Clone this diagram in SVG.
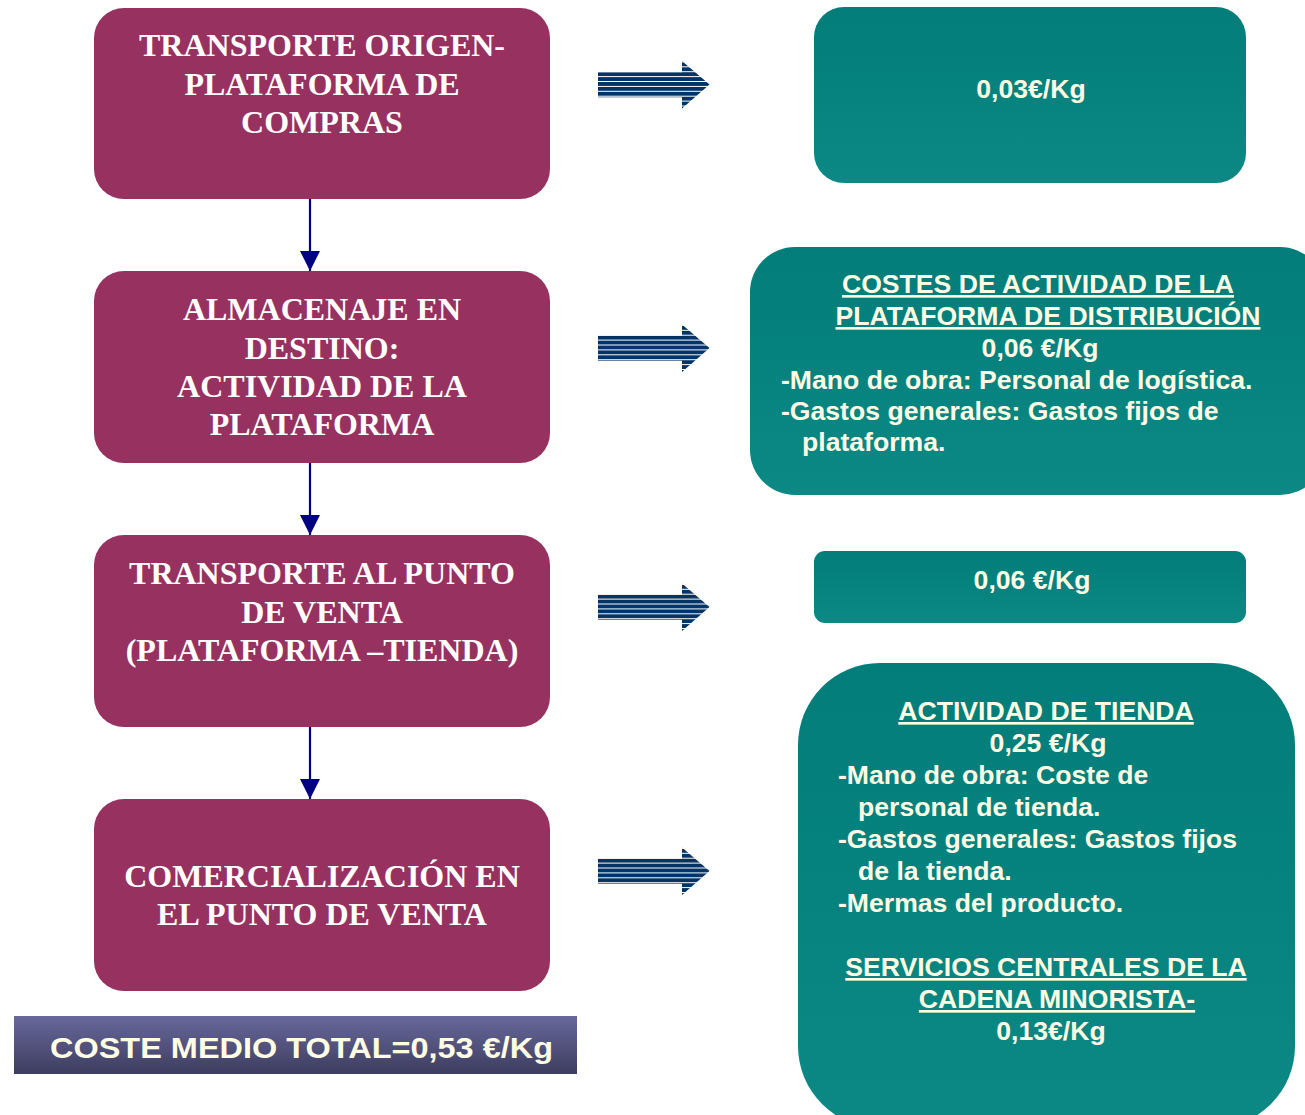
<svg xmlns="http://www.w3.org/2000/svg" width="1305" height="1115" viewBox="0 0 1305 1115">
<defs>
<style>
.lb{fill:#973260;}
.lt{font-family:"Liberation Serif","Times New Roman",serif;font-weight:bold;font-size:32px;fill:#FFFFFF;text-anchor:middle;}
.tb{fill:url(#teal);}
.tt{font-family:"Liberation Sans",Arial,sans-serif;font-weight:bold;font-size:26.6px;fill:#FFFDE3;}
.c{text-anchor:middle;}
.u{text-decoration:underline;}
.vl{stroke:#000080;stroke-width:2.2;fill:none;marker-end:url(#ah);}
</style>
<linearGradient id="teal" x1="0" y1="0" x2="0" y2="1">
<stop offset="0" stop-color="#027D79"/>
<stop offset="1" stop-color="#0C8985"/>
</linearGradient>
<linearGradient id="slate" x1="0" y1="0" x2="0" y2="1">
<stop offset="0" stop-color="#68689B"/>
<stop offset="1" stop-color="#3D3D60"/>
</linearGradient>
<pattern id="stripes" patternUnits="userSpaceOnUse" x="0" y="-12.3" width="20" height="4.9">
<rect x="0" y="0" width="20" height="3.9" fill="#003366"/>
</pattern>
<marker id="ah" markerWidth="20" markerHeight="21" refX="20" refY="10" orient="auto" markerUnits="userSpaceOnUse">
<path d="M0,0 L20,10 L0,20 Z" fill="#000080"/>
</marker>
<polygon id="sarrow" points="598,-12.3 682,-12.3 682,-23.5 709.5,0 682,24 682,12.7 598,12.7" fill="url(#stripes)"/>
</defs>

<g id="connectors">
<line class="vl" x1="310" y1="199" x2="310" y2="271"/>
<line class="vl" x1="310" y1="463" x2="310" y2="535"/>
<line class="vl" x1="310" y1="727" x2="310" y2="799"/>
<use href="#sarrow" transform="translate(0,84.5)"/>
<use href="#sarrow" transform="translate(0,348)"/>
<use href="#sarrow" transform="translate(0,607)"/>
<use href="#sarrow" transform="translate(0,871)"/>
</g>

<g id="node-transporte-origen">
<rect class="lb" x="94" y="8" width="456" height="191" rx="30"/>
<text class="lt" x="322" y="56">TRANSPORTE ORIGEN-</text>
<text class="lt" x="322" y="95">PLATAFORMA DE</text>
<text class="lt" x="322" y="133">COMPRAS</text>
</g>

<g id="node-almacenaje">
<rect class="lb" x="94" y="271" width="456" height="192" rx="30"/>
<text class="lt" x="322" y="320">ALMACENAJE EN</text>
<text class="lt" x="322" y="359">DESTINO:</text>
<text class="lt" x="322" y="397">ACTIVIDAD DE LA</text>
<text class="lt" x="322" y="435">PLATAFORMA</text>
</g>

<g id="node-transporte-punto">
<rect class="lb" x="94" y="535" width="456" height="192" rx="30"/>
<text class="lt" x="322" y="584">TRANSPORTE AL PUNTO</text>
<text class="lt" x="322" y="623">DE VENTA</text>
<text class="lt" x="322" y="661">(PLATAFORMA –TIENDA)</text>
</g>

<g id="node-comercializacion">
<rect class="lb" x="94" y="799" width="456" height="192" rx="30"/>
<text class="lt" x="322" y="887">COMERCIALIZACIÓN EN</text>
<text class="lt" x="322" y="925">EL PUNTO DE VENTA</text>
</g>

<g id="node-coste-total">
<rect x="14" y="1016" width="563" height="58" fill="url(#slate)"/>
<text x="50" y="1058" font-family="'Liberation Sans',Arial,sans-serif" font-weight="bold" font-size="30" fill="#FFFDE3" textLength="503" lengthAdjust="spacingAndGlyphs">COSTE MEDIO TOTAL=0,53 €/Kg</text>
</g>

<g id="node-coste-1">
<rect class="tb" x="814" y="7" width="432" height="176" rx="30"/>
<text class="tt c" x="1031" y="98">0,03€/Kg</text>
</g>

<g id="node-coste-2">
<rect class="tb" x="750" y="247" width="575" height="248" rx="45"/>
<text class="tt c u" x="1038" y="293">COSTES DE ACTIVIDAD DE LA</text>
<text class="tt c u" x="1048" y="325">PLATAFORMA DE DISTRIBUCIÓN</text>
<text class="tt c" x="1040" y="357">0,06 €/Kg</text>
<text class="tt" x="781" y="389">-Mano de obra: Personal de logística.</text>
<text class="tt" x="781" y="420">-Gastos generales: Gastos fijos de</text>
<text class="tt" x="802" y="451">plataforma.</text>
</g>

<g id="node-coste-3">
<rect class="tb" x="814" y="551" width="432" height="72" rx="11"/>
<text class="tt c" x="1032" y="589">0,06 €/Kg</text>
</g>

<g id="node-coste-4">
<rect class="tb" x="798" y="663" width="497" height="465" rx="82"/>
<text class="tt c u" x="1046" y="720">ACTIVIDAD DE TIENDA</text>
<text class="tt c" x="1048" y="752">0,25 €/Kg</text>
<text class="tt" x="838" y="784">-Mano de obra: Coste de</text>
<text class="tt" x="858" y="816">personal de tienda.</text>
<text class="tt" x="838" y="848">-Gastos generales: Gastos fijos</text>
<text class="tt" x="858" y="880">de la tienda.</text>
<text class="tt" x="838" y="912">-Mermas del producto.</text>
<text class="tt c u" x="1046" y="976">SERVICIOS CENTRALES DE LA</text>
<text class="tt c u" x="1057" y="1008">CADENA MINORISTA-</text>
<text class="tt c" x="1051" y="1040">0,13€/Kg</text>
</g>
</svg>
